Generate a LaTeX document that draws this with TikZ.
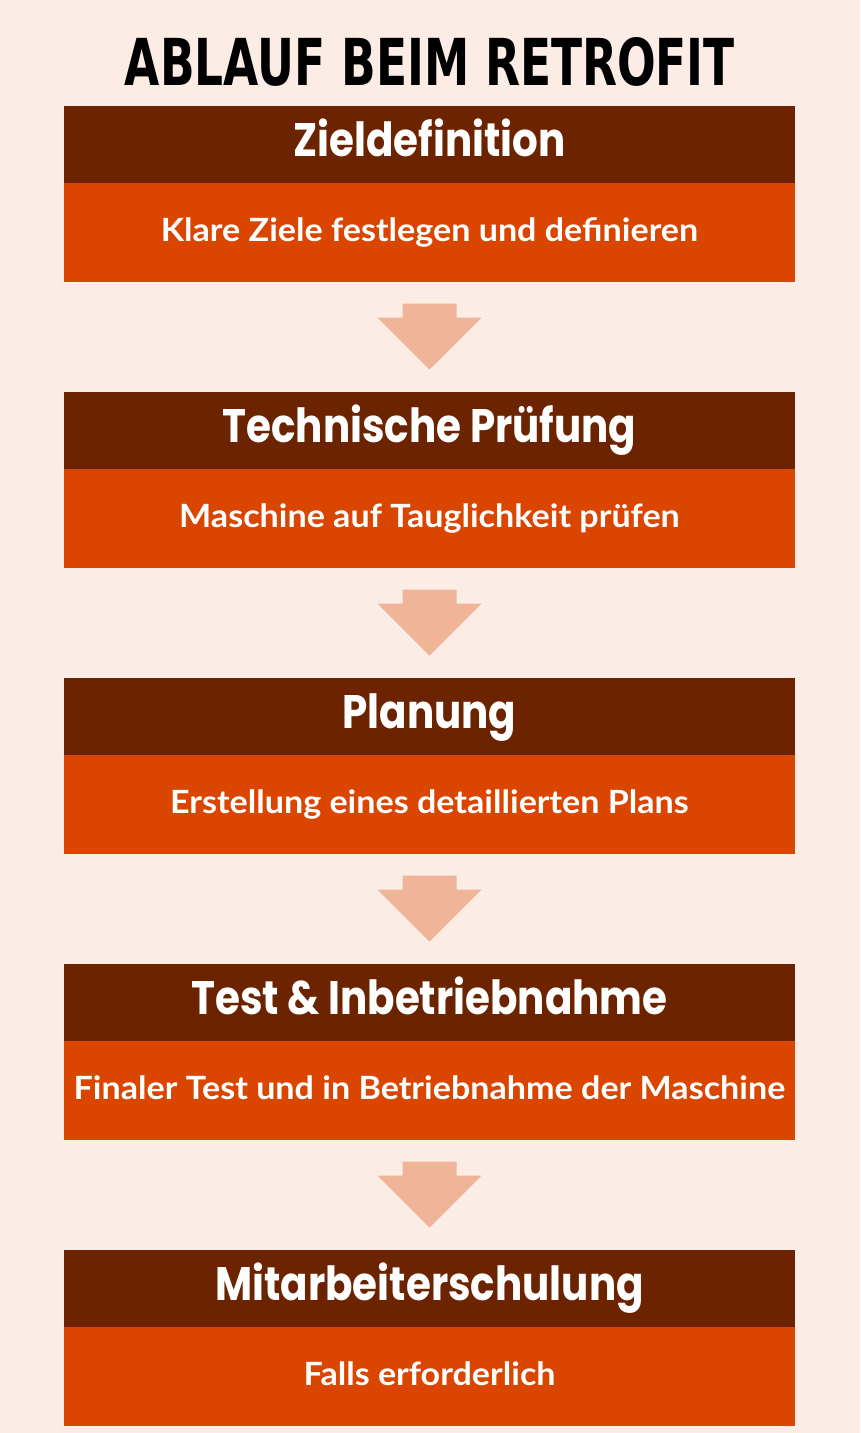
\documentclass[tikz,border=0pt]{standalone}
\usepackage{fontspec}
\usepackage{graphicx}
\setmainfont{Poppins}
\newfontfamily\titlefont{DejaVu Sans}
\newfontfamily\headfont{Poppins}[FakeStretch=0.86]
\newfontfamily\subfont{Lato}[FakeStretch=1.065]
\usetikzlibrary{positioning,calc}

\definecolor{bgRose}{HTML}{FBECE5}
\definecolor{darkBrown}{HTML}{6B2300}
\definecolor{burntOrange}{HTML}{DA4600}
\definecolor{arrowPeach}{HTML}{F0B598}

\begin{document}
\begin{tikzpicture}
[x=1pt,y=-1pt,%
  headDecorate/.style={rectangle,fill=darkBrown,text=white,inner sep=0pt,
    minimum width=731pt,minimum height=77pt,text height=23pt,text depth=0pt,
    font=\headfont\bfseries\fontsize{47}{47}\selectfont},%
  bodyDecorate/.style={rectangle,fill=burntOrange,text=white,inner sep=0pt,
    minimum width=731pt,minimum height=98.5pt,text height=17.5pt,text depth=0pt,
    font=\subfont\bfseries\fontsize{32}{32}\selectfont},%
  arrowDecorate/.style={fill=arrowPeach}]
\fill[bgRose] (0,0) rectangle (860,1433);
\useasboundingbox (0,0) rectangle (860,1433);
%% title
\node (title) at (430,61.5) {\resizebox{610pt}{48pt}{\titlefont\bfseries ABLAUF BEIM RETROFIT}};
%% steps
\foreach \stepname/\y/\headtext/\bodytext in {
  s1/144.5/Zieldefinition/Klare Ziele festlegen und definieren,
  s2/430.5/Technische Prüfung/Maschine auf Tauglichkeit prüfen,
  s3/716.5/Planung/Erstellung eines detaillierten Plans,
  s4/1002.5/Test \& Inbetriebnahme/Finaler Test und in Betriebnahme der Maschine,
  s5/1288.5/Mitarbeiterschulung/Falls erforderlich}
{
  \node (\stepname h) at (429.5,\y) [headDecorate] {\headtext};
  \node (\stepname b) [bodyDecorate,below=0pt of \stepname h] {\bodytext};
}
%% arrows
\foreach \from/\to in {s1/s2, s2/s3, s3/s4, s4/s5}
{
  \fill[arrowDecorate] ($(\from b.south)+(-27,21.5)$) -- ++(54,0) -- ++(0,14)
    -- ++(25,0) -- ++(-52,52) -- ++(-52,-52) -- ++(25,0) -- cycle;
}
\end{tikzpicture}
\end{document}
